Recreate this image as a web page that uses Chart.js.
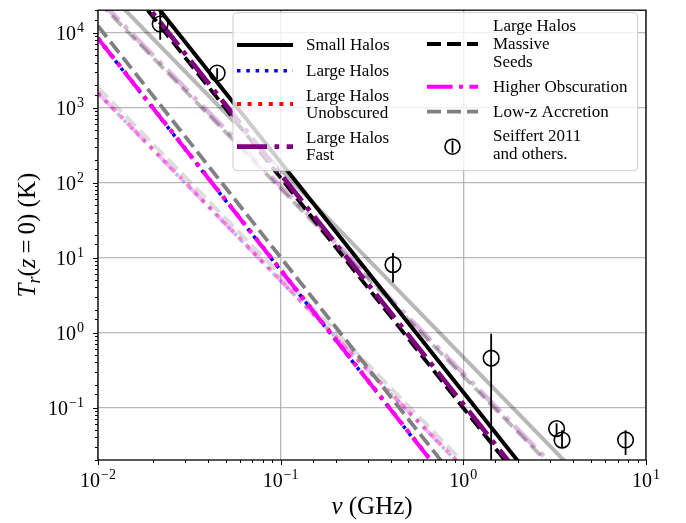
<!DOCTYPE html>
<html>
<head>
<meta charset="utf-8">
<script src="https://cdn.jsdelivr.net/npm/chart.js"></script>
<style>
html,body{margin:0;padding:0;background:#fff;}
#wrap{width:686px;height:523px;position:relative;}
</style>
</head>
<body>
<div id="wrap"><canvas id="c" width="686" height="523"></canvas></div>
<script>
// ---------------- data ----------------
const NU = [0.01, 0.1, 1, 10];                       // GHz
// main curves T_r(z=0) [K]
const SMALL_HALOS      = [2.20e5, 187.5, 0.160, 1.36e-4];
const LARGE_HALOS      = [8318, 6.76, 5.50e-3, 4.47e-6];
const LARGE_UNOBSCURED = [8511, 6.92, 5.62e-3, 4.57e-6];
const LARGE_FAST       = [1.53e5, 130.0, 0.111, 9.42e-5];
const LARGE_SEEDS      = [1.365e5, 116.1, 0.0989, 8.41e-5];
const HIGHER_OBSC      = [8414, 6.84, 5.56e-3, 4.52e-6];
const LOWZ_ACCRETION   = [12300, 10.07, 8.24e-3, 6.75e-6];
// faded companion curves
const SMALL_HALOS_ALT      = [47210, 149.3, 0.472, 1.49e-3];
const LARGE_HALOS_ALT      = [1549, 4.90, 0.0155, 4.90e-5];
const LARGE_UNOBSCURED_ALT = [1585, 5.01, 0.0159, 5.01e-5];
const LARGE_FAST_ALT       = [28440, 89.9, 0.284, 8.99e-4];
const LARGE_SEEDS_ALT      = [26300, 83.2, 0.263, 8.32e-4];
const HIGHER_OBSC_ALT      = [1567, 4.96, 0.0157, 4.95e-5];
const LOWZ_ACCRETION_ALT   = [1862, 5.89, 0.0186, 5.89e-5];
// Seiffert 2011 and others
const OBS_NU = [0.0219, 0.0449, 0.412, 1.42, 3.24, 3.47, 7.73];
const OBS_T  = [13100, 2900, 8.07, 0.457, 0.0525, 0.0369, 0.037];
const OBS_LO = [8100, 2415, 4.65, 0.001, 0.0429, 0.029, 0.0234];
const OBS_HI = [18900, 3370, 11.5, 0.97, 0.0617, 0.0499, 0.0499];

const X_TICKS = [-2, -1, 0, 1];          // decade exponents labelled
const Y_TICKS = [-1, 0, 1, 2, 3, 4];

// ---------------- styles ----------------
const SERIF = '"Liberation Serif","Times New Roman",serif';
const STY = {
  small:  {rgb:'0,0,0',     w:4,   dash:[],                 z:20},
  large:  {rgb:'0,0,255',   w:3.5, dash:[3.5,5.8],          z:17},
  unobs:  {rgb:'255,0,0',   w:4,   dash:[4,6.6],            z:16},
  fast:   {rgb:'128,0,128', w:4.7, dash:[30,7.5,4.7,7.5],   z:18},
  seeds:  {rgb:'0,0,0',     w:3.8, dash:[14,6],             z:19},
  higher: {rgb:'255,0,255', w:4,   dash:[25.6,6.4,4,6.4],   z:14},
  lowz:   {rgb:'128,128,128', w:3.8, dash:[14,6],           z:13}
};
const FADE = 0.28;

function curve(vals, key, alpha, order) {
  const s = STY[key];
  return {
    data: NU.map((x, i) => ({x, y: vals[i]})),
    borderColor: `rgba(${s.rgb},${alpha})`,
    borderWidth: s.w,
    borderDash: s.dash,
    borderCapStyle: 'butt',
    pointRadius: 0,
    tension: 0,
    fill: false,
    clip: 0,
    order
  };
}

const datasets = [];
// markers + error bars on top
datasets.push({
  data: OBS_NU.map((x, i) => ({x, y: OBS_T[i]})),
  showLine: false, pointStyle: 'circle', pointRadius: 7.8,
  pointBorderColor: '#000', pointBackgroundColor: 'rgba(0,0,0,0)',
  pointBorderWidth: 1.6, clip: 0, order: 0
});
OBS_NU.forEach((x, i) => {
  datasets.push({
    data: [{x, y: OBS_LO[i]}, {x, y: OBS_HI[i]}],
    borderColor: '#000', borderWidth: 1.8, pointRadius: 0, clip: 0, order: 0
  });
});
const MAIN = [[SMALL_HALOS,'small'],[LARGE_HALOS,'large'],[LARGE_UNOBSCURED,'unobs'],
              [LARGE_FAST,'fast'],[LARGE_SEEDS,'seeds'],[HIGHER_OBSC,'higher'],[LOWZ_ACCRETION,'lowz']];
const ALT  = [[SMALL_HALOS_ALT,'small'],[LARGE_HALOS_ALT,'large'],[LARGE_UNOBSCURED_ALT,'unobs'],
              [LARGE_FAST_ALT,'fast'],[LARGE_SEEDS_ALT,'seeds'],[HIGHER_OBSC_ALT,'higher'],[LOWZ_ACCRETION_ALT,'lowz']];
MAIN.forEach(([v,k]) => datasets.push(curve(v, k, 1, STY[k].z)));
ALT.forEach(([v,k]) => datasets.push(curve(v, k, FADE, STY[k].z + 20)));

// ---------------- legend content ----------------
const LEGEND_COL1 = [
  {key:'small', lines:['Small Halos']},
  {key:'large', lines:['Large Halos']},
  {key:'unobs', lines:['Large Halos','Unobscured']},
  {key:'fast',  lines:['Large Halos','Fast']}
];
const LEGEND_COL2 = [
  {key:'seeds',  lines:['Large Halos','Massive','Seeds']},
  {key:'higher', lines:['Higher Obscuration']},
  {key:'lowz',   lines:['Low-z Accretion']},
  {key:'obs',    lines:['Seiffert 2011','and others.']}
];

function isDecade(v){ const l = Math.log10(v); return Math.abs(l - Math.round(l)) < 1e-6; }

function powLabel(ctx, exp, x, y, align) {
  const base = '10';
  const e = exp < 0 ? '\u2212' + Math.abs(exp) : String(exp);
  ctx.font = '20px ' + SERIF; const wb = ctx.measureText(base).width;
  ctx.font = '14px ' + SERIF; const we = ctx.measureText(e).width;
  const x0 = align === 'right' ? x - wb - we - 1 : x - (wb + we + 1) / 2;
  ctx.textAlign = 'left'; ctx.textBaseline = 'alphabetic';
  ctx.font = '20px ' + SERIF; ctx.fillText(base, x0, y);
  ctx.font = '14px ' + SERIF; ctx.fillText(e, x0 + wb + 1, y - 8);
}

function drawPieces(ctx, pieces, cx, baseY) {
  let total = 0;
  pieces.forEach(p => { ctx.font = p.f; p.w = ctx.measureText(p.t).width; total += p.w; });
  let xx = cx - total / 2;
  ctx.textAlign = 'left'; ctx.textBaseline = 'alphabetic';
  pieces.forEach(p => { ctx.font = p.f; ctx.fillText(p.t, xx, baseY + (p.dy || 0)); xx += p.w; });
}

const decor = {
  id: 'decor',
  afterDraw(chart) {
    const {ctx, chartArea: a, scales: {x, y}} = chart;
    ctx.save();
    ctx.fillStyle = '#000'; ctx.strokeStyle = '#000';
    // tick marks
    ctx.lineWidth = 1;
    ctx.beginPath();
    x.ticks.forEach(t => {
      const px = Math.round(x.getPixelForValue(t.value)) + 0.5;
      const L = isDecade(t.value) ? 5 : 3;
      ctx.moveTo(px, a.bottom); ctx.lineTo(px, a.bottom + L);
    });
    y.ticks.forEach(t => {
      const py = Math.round(y.getPixelForValue(t.value)) + 0.5;
      const L = isDecade(t.value) ? 5 : 3;
      ctx.moveTo(a.left, py); ctx.lineTo(a.left - L, py);
    });
    ctx.stroke();
    // frame
    ctx.lineWidth = 1.3;
    ctx.strokeRect(a.left, a.top, a.right - a.left, a.bottom - a.top);
    // tick labels
    X_TICKS.forEach(e => powLabel(ctx, e, x.getPixelForValue(Math.pow(10, e)), a.bottom + 27, 'center'));
    Y_TICKS.forEach(e => powLabel(ctx, e, a.left - 14, y.getPixelForValue(Math.pow(10, e)) + 7, 'right'));
    // axis titles
    drawPieces(ctx, [
      {t:'\u03bd', f:'italic 25px ' + SERIF},
      {t:' (GHz)', f:'25px ' + SERIF}
    ], (a.left + a.right) / 2, 514);
    ctx.save();
    ctx.translate(35, (a.top + a.bottom) / 2);
    ctx.rotate(-Math.PI / 2);
    drawPieces(ctx, [
      {t:'T', f:'italic 25px ' + SERIF},
      {t:'r', f:'italic 18px ' + SERIF, dy: 5},
      {t:'(', f:'25px ' + SERIF},
      {t:'z', f:'italic 25px ' + SERIF},
      {t:'\u2009=\u20090)', f:'25px ' + SERIF},
      {t:' (K)', f:'25px ' + SERIF}
    ], 0, 0);
    ctx.restore();

    // legend
    const L = {x0: 233, y0: 12.7, x1: 637.7, y1: 170.7};
    ctx.beginPath();
    ctx.roundRect(L.x0, L.y0, L.x1 - L.x0, L.y1 - L.y0, 4);
    ctx.fillStyle = 'rgba(255,255,255,0.8)'; ctx.fill();
    ctx.strokeStyle = '#cccccc'; ctx.lineWidth = 1; ctx.stroke();

    const rowsY1 = [[45],[70.7],[95.3,112.7],[137.7,155]];
    const sampY1 = [45, 70.7, 104, 146.7];
    const rowsY2 = [[26,44,62],[86.7],[111.7],[136,154]];
    const sampY2 = [44, 86.7, 111.7, 146.7];
    function entry(item, sx0, sx1, tx, sy, ys) {
      if (item.key === 'obs') {
        const cx = (sx0 + sx1) / 2;
        ctx.setLineDash([]); ctx.strokeStyle = '#000'; ctx.lineWidth = 1.6;
        ctx.beginPath(); ctx.arc(cx, sy, 7.5, 0, Math.PI * 2); ctx.stroke();
        ctx.lineWidth = 1.8;
        ctx.beginPath(); ctx.moveTo(cx, sy - 6); ctx.lineTo(cx, sy + 6); ctx.stroke();
      } else {
        const s = STY[item.key];
        ctx.setLineDash(s.dash); ctx.lineCap = 'butt';
        ctx.strokeStyle = `rgb(${s.rgb})`; ctx.lineWidth = s.w;
        ctx.beginPath(); ctx.moveTo(sx0, sy); ctx.lineTo(sx1, sy); ctx.stroke();
        ctx.setLineDash([]);
      }
      ctx.fillStyle = '#000'; ctx.font = '17px ' + SERIF;
      ctx.textAlign = 'left'; ctx.textBaseline = 'middle';
      item.lines.forEach((t, j) => ctx.fillText(t, tx, ys[j] + 1));
    }
    LEGEND_COL1.forEach((it, i) => entry(it, 237, 293, 306, sampY1[i], rowsY1[i]));
    LEGEND_COL2.forEach((it, i) => entry(it, 427, 478, 493, sampY2[i], rowsY2[i]));
    ctx.restore();
  }
};

const gridColor = c => (c.tick && isDecade(c.tick.value)) ? 'rgba(176,176,176,0.9)' : 'rgba(0,0,0,0)';

new Chart(document.getElementById('c'), {
  type: 'line',
  data: {datasets},
  options: {
    responsive: false,
    devicePixelRatio: 1,
    animation: false,
    layout: {padding: {left: 0, right: 40, top: 3, bottom: 0}},
    plugins: {legend: {display: false}, tooltip: {enabled: false}},
    scales: {
      x: {
        type: 'logarithmic', min: 0.01, max: 10, position: 'bottom',
        afterFit: s => { s.height = 63; },
        border: {display: false},
        grid: {color: gridColor, lineWidth: 1.3, drawTicks: false},
        ticks: {autoSkip: false, callback: () => '', maxRotation: 0}
      },
      y: {
        type: 'logarithmic', min: 0.02, max: 20000, position: 'left',
        afterFit: s => { s.width = 98; },
        border: {display: false},
        grid: {color: gridColor, lineWidth: 1.3, drawTicks: false},
        ticks: {autoSkip: false, callback: () => ''}
      }
    }
  },
  plugins: [decor]
});
</script>
</body>
</html>
